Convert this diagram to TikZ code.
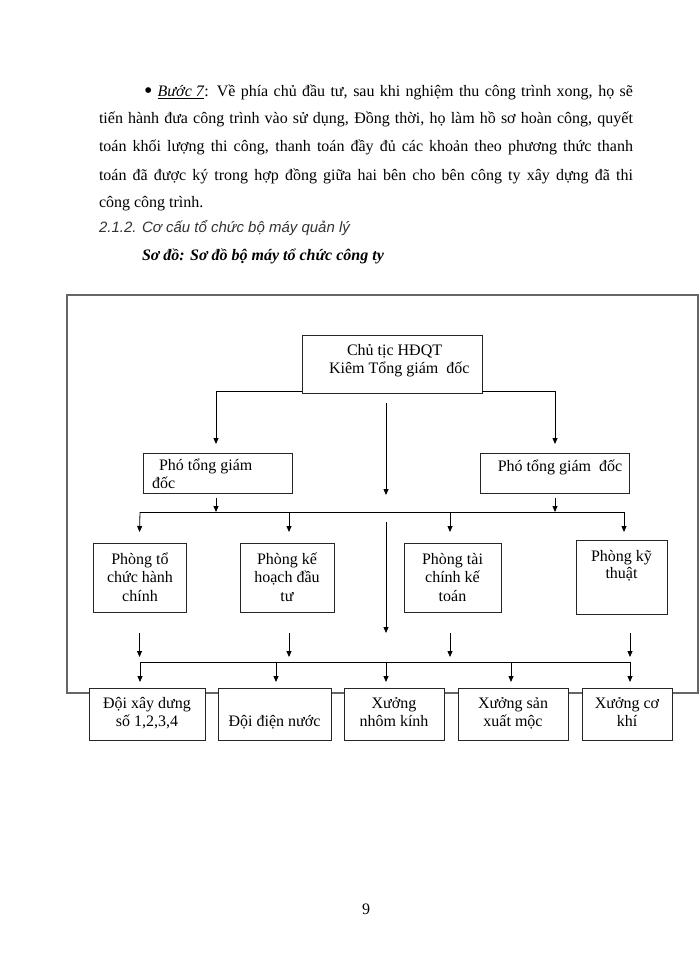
\documentclass[tikz,border=0pt]{standalone}
\usepackage{fontspec}
\usepackage{graphicx}
\setmainfont{Liberation Serif}
\newfontfamily\sansf{Liberation Sans}
\usetikzlibrary{arrows.meta}
\newcommand\bx[5]{\node[boxst, anchor=north west, minimum width={(#4-#2)*1pt}, minimum height={(#5-#3)*1pt}] (#1) at (#2,#3) {};}
\begin{document}
\begin{tikzpicture}[x=1pt,y=-1pt,
  every node/.style={inner sep=0pt, outer sep=0pt},
  boxst/.style={draw=black!85, line width=0.9pt, fill=white, rectangle},
  conn/.style={draw=black, line width=0.8pt},
  arr/.style={conn, -{Triangle[length=6pt,width=5pt]}},
  txt/.style={anchor=base, font=\fontsize{16}{19}\selectfont},
  ltxt/.style={anchor=base west, font=\fontsize{16}{19}\selectfont},
  framest/.style={draw=black!60, line width=1.5pt}]
\useasboundingbox (0,0) rectangle (700,960);
\fill[white] (0,0) rectangle (700,960);

% ---- paragraph text ----
\node[ltxt] (p1) at (144,97) {\makebox[489pt][s]{\raisebox{-1.5pt}{\scalebox{1.5}{•}} \underline{\textit{Bước 7}}: Về phía chủ đầu tư, sau khi nghiệm thu công trình xong, họ sẽ}};
\node[ltxt] (p2) at (99,124) {\makebox[534pt][s]{tiến hành đưa công trình vào sử dụng, Đồng thời, họ làm hồ sơ hoàn công, quyết}};
\node[ltxt] (p3) at (99,152) {\makebox[534pt][s]{toán khối lượng thi công, thanh toán đầy đủ các khoản theo phương thức thanh}};
\node[ltxt] (p4) at (99,180) {\makebox[534pt][s]{toán đã được ký trong hợp đồng giữa hai bên cho bên công ty xây dựng đã thi}};
\node[ltxt] (p5) at (99,207) {công công trình.};
\node[anchor=base west, font=\sansf\itshape\fontsize{15}{18}\selectfont, text=black!80] (h1) at (99,232) {2.1.2. Cơ cấu tổ chức bộ máy quản lý};
\node[ltxt, font=\bfseries\itshape\fontsize{16}{19}\selectfont] (h2) at (142,260) {Sơ đồ: Sơ đồ bộ máy tổ chức công ty};
\node[txt] (pg) at (366,914) {9};

% ---- frame ----
\draw[framest] (67,295) rectangle (698,693);

% ---- boxes ----
\bx{top}{302}{335}{482}{393}
\bx{pL}{143}{453}{292}{493}
\bx{pR}{480}{453}{629}{493}
\bx{r1}{93}{543}{186}{612}
\bx{r2}{240}{543}{334}{612}
\bx{r3}{404}{543}{501}{612}
\bx{r4}{576}{540}{667}{614}
\bx{b1}{89}{688}{205}{740}
\bx{b2}{218}{688}{331}{740}
\bx{b3}{344}{688}{444}{740}
\bx{b4}{458}{688}{568}{740}
\bx{b5}{582}{688}{672}{740}

% ---- box texts ----
\node[ltxt] (tt1) at (347,355) {Chủ tịc HĐQT};
\node[ltxt] (tt2) at (329,373) {Kiêm Tổng giám\ \ đốc};
\node[ltxt] (tl1) at (159,470) {Phó tổng giám};
\node[ltxt] (tl2) at (152,488) {đốc};
\node[txt] (tr1) at (560,471) {Phó tổng giám\ \ đốc};
\node[txt] (r1a) at (140,564) {Phòng tổ};
\node[txt] (r1b) at (140,582.5) {chức hành};
\node[txt] (r1c) at (140,601) {chính};
\node[txt] (r2a) at (287,564) {Phòng kế};
\node[txt] (r2b) at (287,582.5) {hoạch đầu};
\node[txt] (r2c) at (287,601) {tư};
\node[txt] (r3a) at (452.5,564) {Phòng tài};
\node[txt] (r3b) at (452.5,582.5) {chính kế};
\node[txt] (r3c) at (452.5,601) {toán};
\node[txt] (r4a) at (621.5,561) {Phòng kỹ};
\node[txt] (r4b) at (621.5,578) {thuật};
\node[txt] (b1a) at (147,708) {Đội xây dưng};
\node[txt] (b1b) at (147,726) {số 1,2,3,4};
\node[txt] (b2a) at (274.5,726) {Đội điện nước};
\node[txt] (b3a) at (394,708) {Xưởng};
\node[txt] (b3b) at (394,726) {nhôm kính};
\node[txt] (b4a) at (513,708) {Xưởng sản};
\node[txt] (b4b) at (513,726) {xuất mộc};
\node[txt] (b5a) at (627,708) {Xưởng cơ};
\node[txt] (b5b) at (627,726) {khí};

% ---- connector coordinates ----
\coordinate (aL) at (216,444);
\coordinate (aR) at (555,444);
\coordinate (c1s) at (386,403);
\coordinate (c1e) at (386,495);
\coordinate (pLo) at (216,498);
\coordinate (pRo) at (555,498);
\coordinate (u1) at (140,512);
\coordinate (u4) at (624,512);
\coordinate (c2s) at (386,522);
\coordinate (c2e) at (386,633);
\coordinate (v1) at (140,662);
\coordinate (v5) at (630,662);

% ---- connectors ----
\draw[arr] ([yshift=2pt]top.south west) -| (aL);
\draw[arr] ([yshift=2pt]top.south east) -| (aR);
\draw[arr] (c1s) -- (c1e);
\draw[arr] (pLo) -- (pLo |- u1);
\draw[arr] (pRo) -- (pRo |- u1);
\draw[conn] (u1) -- (u4);
\draw[arr] (u1) -- ([yshift=11pt]r1.north);
\draw[arr] ([xshift=2pt]r2.north |- u1) -- ([xshift=2pt,yshift=11pt]r2.north);
\draw[arr] ([xshift=-2.5pt]r3.north |- u1) -- ([xshift=-2.5pt,yshift=11pt]r3.north);
\draw[arr] (u4) -- (u4 |- 0,532);
\draw[arr] (c2s) -- (c2e);
\draw[arr] ([yshift=-21pt]r1.south) -- ([yshift=-45pt]r1.south);
\draw[arr] ([xshift=2pt,yshift=-21pt]r2.south) -- ([xshift=2pt,yshift=-45pt]r2.south);
\draw[arr] ([xshift=-2.5pt,yshift=-21pt]r3.south) -- ([xshift=-2.5pt,yshift=-45pt]r3.south);
\draw[arr] ([xshift=8.5pt,yshift=-19pt]r4.south) -- ([xshift=8.5pt,yshift=-43pt]r4.south);
\draw[conn] (v1) -- (v5);
\draw[arr] (v1) -- ([xshift=-7pt,yshift=6pt]b1.north);
\draw[arr] ([xshift=1.5pt]b2.north |- v1) -- ([xshift=1.5pt,yshift=6pt]b2.north);
\draw[arr] ([xshift=-8pt]b3.north |- v1) -- ([xshift=-8pt,yshift=6pt]b3.north);
\draw[arr] ([xshift=-2pt]b4.north |- v1) -- ([xshift=-2pt,yshift=6pt]b4.north);
\draw[arr] (v5) -- ([xshift=3pt,yshift=6pt]b5.north);
\end{tikzpicture}
\end{document}
